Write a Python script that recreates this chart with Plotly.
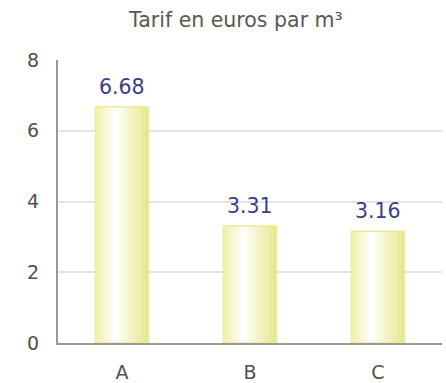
import plotly.graph_objects as go

categories = ["A", "B", "C"]
tarifs = [6.68, 3.31, 3.16]
y_ticks = [0, 2, 4, 6, 8]
title_text = "Tarif en euros par m³"

BAR_W = 0.415
N_SLICES = 32
# horizontal gradient stops across a bar (position, rgb)
stops = [(0.0, (240, 240, 168)), (0.38, (255, 255, 255)), (1.0, (230, 230, 138))]


def grad_color(f):
    for (p0, c0), (p1, c1) in zip(stops[:-1], stops[1:]):
        if p0 <= f <= p1:
            t = (f - p0) / (p1 - p0)
            return "rgb(%d,%d,%d)" % tuple(round(a + (b - a) * t) for a, b in zip(c0, c1))
    return "rgb(%d,%d,%d)" % stops[-1][1]


fig = go.Figure()
step = BAR_W / N_SLICES
for i in range(N_SLICES):
    off = -BAR_W / 2 + i * step
    w = min(step * 1.6, BAR_W / 2 - off)
    fig.add_trace(go.Bar(
        x=categories, y=tarifs, offset=off, width=w,
        marker=dict(color=grad_color((i + 0.5) / N_SLICES), line=dict(width=0)),
        hoverinfo="skip", showlegend=False,
    ))

# bar outline
fig.add_trace(go.Bar(
    x=categories, y=tarifs, width=BAR_W,
    marker=dict(color="rgba(0,0,0,0)", line=dict(color="rgb(236,236,150)", width=1.5)),
    hoverinfo="skip", showlegend=False,
))

for c, v in zip(categories, tarifs):
    fig.add_annotation(
        x=c, y=v, text=f"{v:.2f}", showarrow=False,
        yanchor="bottom", yshift=6,
        font=dict(family="DejaVu Sans", size=20.5, color="#3c3c90"),
    )

fig.update_layout(
    width=446, height=383,
    margin=dict(l=58, r=4, t=60, b=40, autoexpand=False),
    paper_bgcolor="white", plot_bgcolor="white",
    barmode="overlay",
    title=dict(text=title_text, x=0.529, xanchor="center", y=0.948, yanchor="middle",
               font=dict(family="DejaVu Sans", size=20.5, color="#585858")),
    font=dict(family="DejaVu Sans", size=19, color="#505050"),
    xaxis=dict(showline=True, linecolor="#999", linewidth=2, showgrid=False, automargin=False,
               ticks="", ticklabelstandoff=11, zeroline=False),
    yaxis=dict(range=[0, 8], tickvals=y_ticks, showline=True, linecolor="#999", linewidth=2,
               showgrid=True, gridcolor="#e4e4e4", gridwidth=1.5, zeroline=False, automargin=False,
               ticks="", ticklabelstandoff=13),
)

fig.write_html("out.html")
